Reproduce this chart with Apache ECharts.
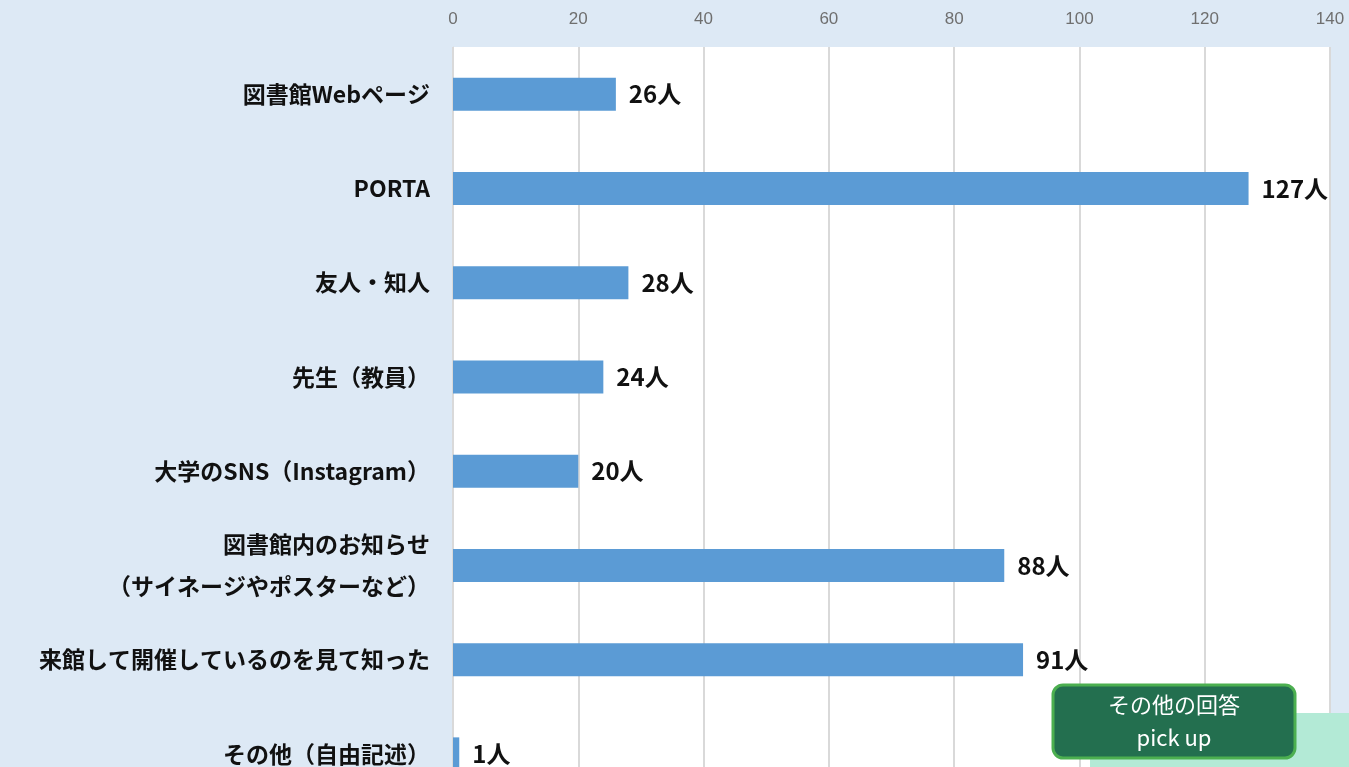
<!DOCTYPE html>
<html><head><meta charset="utf-8">
<script src="https://cdn.jsdelivr.net/npm/echarts@6/dist/echarts.min.js"></script>
<style>html,body{margin:0;padding:0;background:#dde9f5;overflow:hidden;}#c{width:1349px;height:830px;}</style>
</head><body><div id="c"></div>
<script>
const categories = [
  '図書館Webページ',
  'PORTA',
  '友人・知人',
  '先生（教員）',
  '大学のSNS（Instagram）',
  '図書館内のお知らせ\n（サイネージやポスターなど）',
  '来館して開催しているのを見て知った',
  'その他（自由記述）'
];
const values = [26, 127, 28, 24, 20, 88, 91, 1];
const xTicks = [0, 20, 40, 60, 80, 100, 120, 140];
const boxText = 'その他の回答\npick up';

const chart = echarts.init(document.getElementById('c'));
chart.setOption({
  backgroundColor: '#dde9f5',
  animation: false,
  grid: { left: 453, top: 47, right: 19, bottom: 29, show: true, backgroundColor: '#ffffff', borderWidth: 0, containLabel: false, outerBoundsMode: 'none' },
  xAxis: {
    type: 'value', position: 'top', min: xTicks[0], max: xTicks[xTicks.length - 1], interval: 20,
    axisLine: { show: false }, axisTick: { show: false },
    axisLabel: { color: '#6f6f6f', fontSize: 17, fontFamily: 'Liberation Sans Narrow, Liberation Sans', margin: 19 },
    splitLine: { lineStyle: { color: '#d9d9d9', width: 2 } }
  },
  yAxis: {
    type: 'category', data: categories, inverse: true,
    axisLine: { show: true, lineStyle: { color: '#d9d9d9', width: 1 } },
    axisTick: { show: false },
    axisLabel: { color: '#111', fontSize: 23, fontWeight: 'bold', fontFamily: 'Noto Sans CJK JP', margin: 23, lineHeight: 42, align: 'right' }
  },
  series: [{
    type: 'bar', data: values, barWidth: 33,
    itemStyle: { color: '#5b9bd5' },
    label: { show: true, position: 'right', distance: 13, formatter: '{c}人', color: '#111', fontSize: 24, fontWeight: 'bold', fontFamily: 'Noto Sans CJK JP' }
  }],
  graphic: [
    { type: 'rect', z: 100, shape: { x: 1090, y: 713, width: 259, height: 120 }, style: { fill: '#b3ead6' } },
    { type: 'rect', z: 101, shape: { x: 1053, y: 685, width: 242, height: 73, r: 10 }, style: { fill: '#236f4f', stroke: '#4caf50', lineWidth: 3 } },
    { type: 'text', z: 102, x: 1174, y: 721, style: { text: boxText, fill: '#ffffff', font: '22px Noto Sans CJK JP', align: 'center', verticalAlign: 'middle', lineHeight: 33 } }
  ]
});
</script></body></html>
